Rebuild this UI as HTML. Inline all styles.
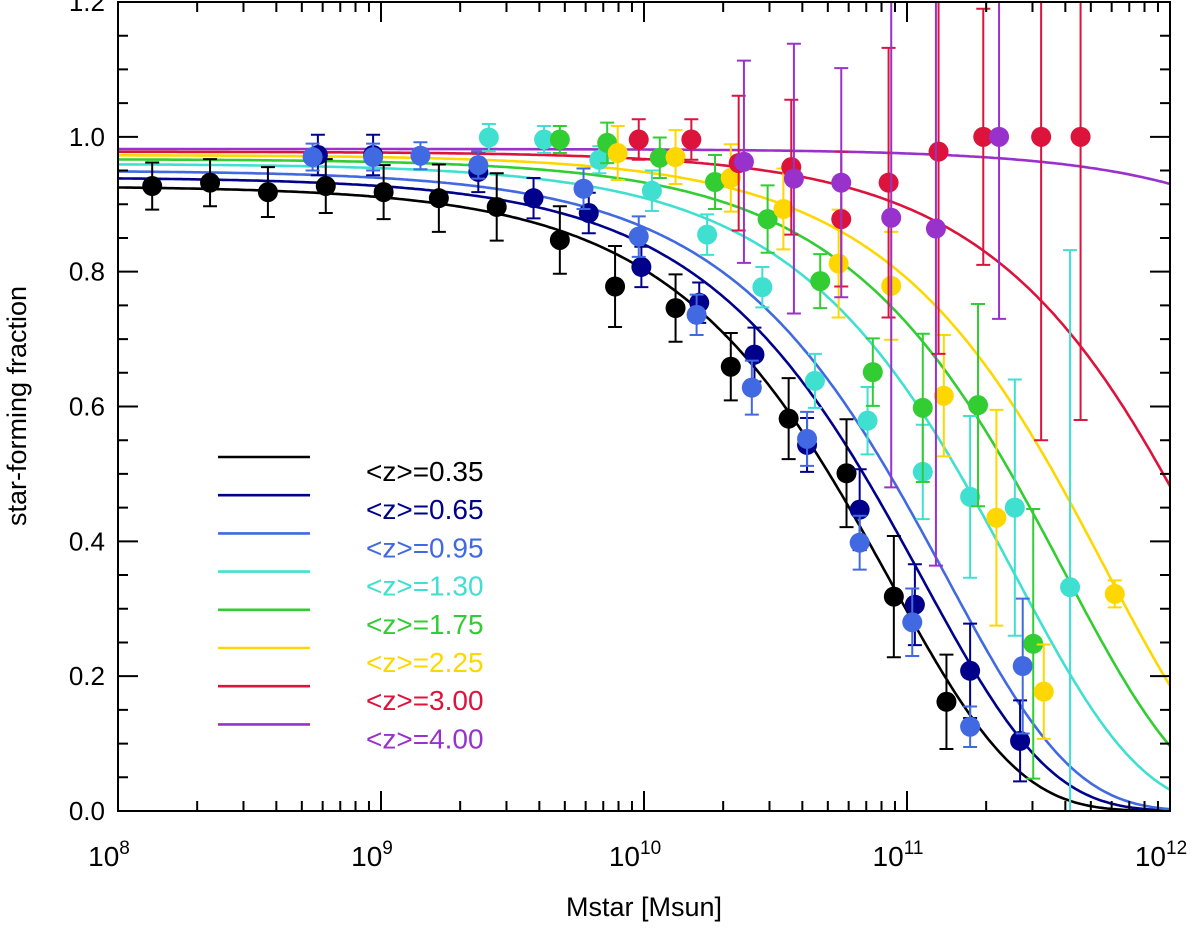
<!DOCTYPE html>
<html><head><meta charset="utf-8"><style>
body{margin:0;background:#fff}
svg text{font-family:"Liberation Sans",sans-serif}
</style></head><body>
<svg id="chart" width="1200" height="928" xmlns="http://www.w3.org/2000/svg">
<g id="plot"></g>
</svg>
<script>
const labels=["<z>=0.35","<z>=0.65","<z>=0.95","<z>=1.30","<z>=1.75","<z>=2.25","<z>=3.00","<z>=4.00"];
const colors=["#000000","#00008b","#4169e1","#40e0d0","#32cd32","#ffd700","#dc143c","#9932cc"];
const names=["z035","z065","z095","z130","z175","z225","z300","z400"];
// fit parameters: plateau, half-mass (log), shape
const plateau=[0.927,0.94,0.95,0.96,0.967,0.973,0.978,0.982];
const mhalf=[10.76,10.88,10.97,11.23,11.42,11.58,11.99,13.23];
const slope=0.9;
// data points: log Mstar, fraction, error
const m0=[8.13,8.35,8.57,8.79,9.01,9.22,9.44,9.68,9.89,10.12,10.33,10.55,10.77,10.95,11.15];
const f0=[.927,.932,.918,.927,.918,.909,.896,.847,.778,.746,.659,.582,.501,.318,.162];
const e0=[.035,.035,.037,.04,.04,.05,.05,.05,.06,.05,.05,.06,.08,.09,.07];
const m1=[8.76,8.97,9.37,9.58,9.79,9.99,10.21,10.42,10.62,10.82,11.03,11.24,11.43];
const f1=[.973,.973,.948,.909,.887,.807,.754,.677,.543,.447,.306,.208,.104];
const e1=[.03,.03,.03,.03,.03,.03,.03,.04,.04,.06,.06,.07,.06];
const m2=[8.74,8.97,9.15,9.37,9.77,9.98,10.20,10.41,10.62,10.82,11.02,11.24,11.44];
const f2=[.970,.970,.972,.958,.923,.852,.736,.628,.552,.398,.280,.125,.215];
const e2=[.02,.02,.02,.02,.03,.03,.03,.04,.04,.04,.05,.03,.1];
const m3=[9.41,9.62,9.83,10.03,10.24,10.45,10.65,10.85,11.06,11.24,11.41,11.62];
const f3=[.999,.996,.966,.920,.855,.777,.638,.579,.503,.466,.450,.332];
const e3=[.02,.02,.02,.03,.03,.03,.04,.05,.07,.12,.19,.5];
const m4=[9.68,9.86,10.06,10.27,10.47,10.67,10.87,11.06,11.27,11.48];
const f4=[.996,.991,.969,.933,.878,.786,.651,.598,.602,.248];
const e4=[.02,.03,.03,.04,.05,.04,.05,.11,.15,.2];
const m5=[9.90,10.12,10.33,10.53,10.74,10.94,11.14,11.34,11.52,11.79];
const f5=[.976,.970,.939,.893,.812,.779,.616,.435,.177,.322];
const e5=[.04,.04,.05,.06,.08,.08,.09,.16,.07,.02];
const m6=[9.98,10.18,10.36,10.56,10.75,10.93,11.12,11.29,11.51,11.66];
const f6=[.996,.996,.961,.955,.878,.932,.978,1.0,1.0,1.0];
const e6=[.03,.03,.1,.1,.1,.2,.3,.19,.45,.42];
const m7=[10.38,10.57,10.75,10.94,11.11,11.35];
const f7=[.963,.938,.932,.880,.864,1.0];
const e7=[.15,.2,.17,.4,.5,.27];
const xTicks=["10","10","10","10","10"];
const xExp=["8","9","10","11","12"];
const yTicks=["0.0","0.2","0.4","0.6","0.8","1.0","1.2"];

const M=[m0,m1,m2,m3,m4,m5,m6,m7],F=[f0,f1,f2,f3,f4,f5,f6,f7],E=[e0,e1,e2,e3,e4,e5,e6,e7];
const X0=118,X1=1170,Y0=811,Y1=2;
const xs=v=>X0+(v-8)/4*(X1-X0);
const ys=v=>Y0-v/1.2*(Y0-Y1);
const NS="http://www.w3.org/2000/svg";
const plot=document.getElementById('plot');
const svg=document.getElementById('chart');
function mk(t,a,p){const e=document.createElementNS(NS,t);for(const k in a)e.setAttribute(k,a[k]);(p||plot).appendChild(e);return e;}
const defs=mk('defs',{},svg);
const cp=mk('clipPath',{id:'cp'},defs);
mk('rect',{x:X0,y:Y1,width:X1-X0,height:Y0-Y1},cp);
const g=mk('g',{'clip-path':'url(#cp)'});


for(let s=0;s<8;s++){
  let d='';
  for(let i=0;i<=400;i++){const lm=8+4*i/400;const f=plateau[s]*Math.exp(-Math.LN2*Math.pow(10,slope*(lm-mhalf[s])));d+=(i?'L':'M')+xs(lm).toFixed(1)+','+ys(f).toFixed(1);}
  const p=mk('path',{d:d,fill:'none',stroke:colors[s],'stroke-width':2.6},g);
  
  
}
for(let s=0;s<8;s++){
  for(let i=0;i<M[s].length;i++){
    const x=xs(M[s][i]),y=ys(F[s][i]),yl=ys(F[s][i]-E[s][i]),yh=ys(F[s][i]+E[s][i]);
    const eb=mk('path',{d:`M${x},${yl}V${yh}M${x-7},${yl}H${x+7}M${x-7},${yh}H${x+7}`,stroke:colors[s],'stroke-width':2,fill:'none'},g);
    
    
    const c=mk('circle',{cx:x,cy:y,r:10,fill:colors[s]},g);
    
    
  }
}
const fr=mk('rect',{x:X0,y:Y1,width:X1-X0,height:Y0-Y1,fill:'none',stroke:'#000','stroke-width':2});


let td='';
for(let d=8;d<=12;d++){
  const x=xs(d);td+=`M${x},${Y0}v-20M${x},${Y1}v20`;
  if(d<12)for(let k=2;k<10;k++){const xm=xs(d+Math.log10(k));td+=`M${xm},${Y0}v-10M${xm},${Y1}v10`;}
}
for(let v=0;v<=1.2001;v+=0.05){const y=ys(v);const major=Math.abs(v*5-Math.round(v*5))<1e-6;const L=major?20:10;td+=`M${X0},${y}h${L}M${X1},${y}h-${L}`;}
const tk=mk('path',{d:td,stroke:'#000','stroke-width':2,fill:'none'});


for(let i=0;i<5;i++){
  const t=mk('text',{x:xs(8+i)-9,y:866,'font-size':28,'text-anchor':'middle'});
  t.textContent=xTicks[i];
  
  
  const sp=mk('tspan',{'font-size':19,dy:-12},t);sp.textContent=xExp[i];
}
for(let i=0;i<7;i++){
  const t=mk('text',{x:105,y:ys(i*0.2)+9,'font-size':26,'text-anchor':'end'});
  t.textContent=yTicks[i];
  
  
}
const xt=mk('text',{x:644,y:916,'font-size':27,'text-anchor':'middle'});xt.textContent='Mstar [Msun]';


const yt=mk('text',{x:0,y:0,'font-size':27,'text-anchor':'middle',transform:'translate(26,406) rotate(-90)'});yt.textContent='star-forming fraction';


for(let s=0;s<8;s++){
  const y=457+s*38.2;
  const l=mk('line',{x1:218,x2:310,y1:y,y2:y,stroke:colors[s],'stroke-width':2.6});
  
  
  const t=mk('text',{x:366,y:y+24,'font-size':28,fill:colors[s]});t.textContent=labels[s];
  
  
}
</script>
</body></html>
